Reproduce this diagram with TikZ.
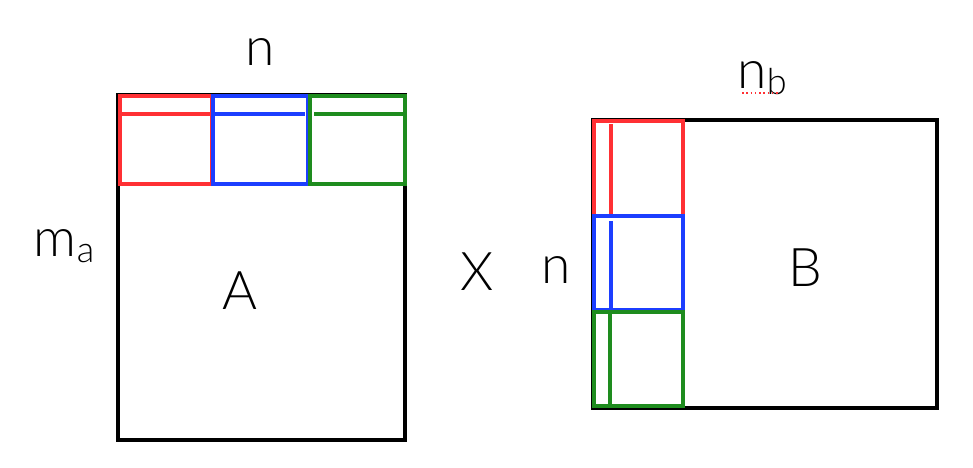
\documentclass[tikz,border=0pt]{standalone}
\usepackage{fontspec}
\setmainfont{Lato Light}
\definecolor{blkred}{RGB}{255,48,52}
\definecolor{blkblue}{RGB}{28,62,255}
\definecolor{blkgreen}{RGB}{30,140,30}
\tikzset{every picture/.style={line width=0.75pt}}
\tikzset{
  mat/.style={draw=black, line width=2.4pt},
  blk/.style={line width=2.4pt},
  lbl/.style={font=\fontsize{40}{44}\selectfont, inner sep=0pt},
}
\begin{document}
\begin{tikzpicture}[x=0.75pt,y=0.75pt,yscale=-1,xscale=1]
\path (0,0) rectangle (973,467);
%Shape: Rectangle [matrix A]
\draw [mat]  (118,95) rectangle (405,440) ;
%Shape: Rectangle [row blocks of A]
\draw [blk, blkred]   (120,96) rectangle (212,184) ;
\draw [blk, blkred]   (120,114) -- (212,114) ;
\draw [blk, blkblue]  (213,96) rectangle (308,184) ;
\draw [blk, blkblue]  (215,114) -- (305,114) ;
\draw [blk, blkgreen] (310,96) rectangle (405,184) ;
\draw [blk, blkgreen] (314,114) -- (405,114) ;
%Shape: Rectangle [matrix B]
\draw [mat]  (593,120) rectangle (937,408) ;
%Shape: Rectangle [column blocks of B]
\draw [blk, blkred]   (594,121) rectangle (683,216) ;
\draw [blk, blkred]   (611,124) -- (611,216) ;
\draw [blk, blkblue]  (594,216) rectangle (683,310) ;
\draw [blk, blkblue]  (611,221) -- (611,311) ;
\draw [blk, blkgreen] (594,312) rectangle (683,406) ;
\draw [blk, blkgreen] (610,312) -- (610,404) ;

% Text Node
\draw (260,52) node [lbl] (nA) {n};
% Text Node
\draw (64,246) node [lbl] (mA) {m\raisebox{-0.1em}{\fontsize{27}{29}\selectfont a}};
% Text Node
\draw (240,291) node [lbl] (A) {A};
% Text Node
\draw (477,272) node [lbl] (X) {X};
% Text Node
\draw (556,270) node [lbl] (nB) {n};
% Text Node
\draw (805,268) node [lbl] (B) {B};
% Text Node
\draw (762,78) node [lbl] (nb) {n\raisebox{-0.1em}{\fontsize{27}{29}\selectfont b}};
\draw [blkred, line width=1.2pt, dotted] (742,93) -- (779,93) ;
\end{tikzpicture}
\end{document}
